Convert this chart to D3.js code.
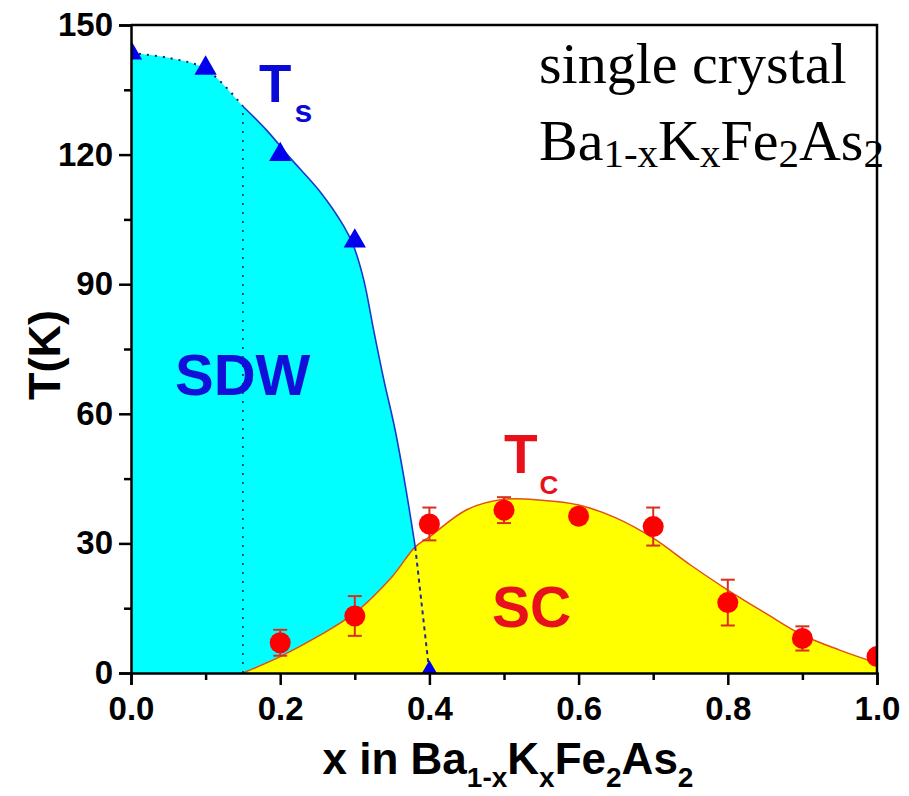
<!doctype html>
<html>
<head>
<script src="https://d3js.org/d3.v7.min.js"></script>
<style>
  body { margin: 0; background: #fff; }
</style>
</head>
<body>
<div id="chart"></div>
<script>
// measured Ts (structural) points, triangles
const tsX = [0, 0.1, 0.2, 0.3, 0.4];
const tsT = [143.5, 140, 120, 100, 0];
// Ts boundary line
const tsLineX = [0, 0.05, 0.1, 0.15, 0.182, 0.213, 0.254, 0.285, 0.298, 0.312, 0.325, 0.339, 0.354, 0.368, 0.381];
const tsLineT = [143.5, 142.4, 139.8, 131.2, 125.6, 119.3, 111.3, 103.5, 99, 91, 79.6, 67.8, 56.3, 43.1, 29.2];
// Tc points with error bars, circles
const tcX = [0.2, 0.3, 0.4, 0.5, 0.6, 0.7, 0.8, 0.9, 1.0];
const tcT = [7.0, 13.2, 34.5, 37.7, 36.3, 33.9, 16.3, 8.0, 3.8];
const tcErr = [3.0, 4.6, 3.8, 3.0, 1.7, 4.4, 5.3, 2.8, 0];
// Tc dome line
const tcLineX = [0.15, 0.2, 0.25, 0.3, 0.35, 0.381, 0.4, 0.45, 0.5, 0.55, 0.6, 0.65, 0.7, 0.75, 0.8, 0.85, 0.9, 0.95, 1.0];
const tcLineT = [0, 3.8, 8.4, 13.9, 22.3, 29.2, 31.5, 37.8, 40.2, 40, 38.9, 35.9, 31.2, 25, 19.2, 13.9, 8.8, 5.3, 2.3];
const xTicks = [0, 0.2, 0.4, 0.6, 0.8, 1.0];
const xMinor = [0.1, 0.3, 0.5, 0.7, 0.9];
const yTicks = [0, 30, 60, 90, 120, 150];
const yMinor = [15, 45, 75, 105, 135];

const width = 909, height = 796;
const mLeft = 131, mRight = 877, mTop = 25, mBottom = 673;
const sans = "'Liberation Sans', Arial, sans-serif";
const serif = "'Liberation Serif', 'Times New Roman', serif";

const x = d3.scaleLinear().domain([0, 1]).range([mLeft, mRight]);
const y = d3.scaleLinear().domain([0, 150]).range([mBottom, mTop]);

const svg = d3.select("#chart").append("svg")
    .attr("width", width)
    .attr("height", height)
    .style("font-family", sans);

svg.append("defs").append("clipPath").attr("id", "plot")
    .append("rect")
    .attr("x", mLeft).attr("y", mTop)
    .attr("width", mRight - mLeft).attr("height", mBottom - mTop);

const tsLine = tsLineX.map((d, i) => [d, tsLineT[i]]);
const tcLine = tcLineX.map((d, i) => [d, tcLineT[i]]);
const curve = d3.curveCatmullRom.alpha(0.5);

const g = svg.append("g").attr("clip-path", "url(#plot)");

// SDW region
g.append("path")
    .datum(tsLine)
    .attr("fill", "#00ffff")
    .attr("d", d3.area()
        .x(d => x(d[0]))
        .y0(y(0))
        .y1(d => y(d[1]))
        .curve(curve));

// SC region
g.append("path")
    .datum(tcLine)
    .attr("fill", "#ffff00")
    .attr("d", d3.area()
        .x(d => x(d[0]))
        .y0(y(0))
        .y1(d => y(d[1]))
        .curve(curve));

const line = d3.line().x(d => x(d[0])).y(d => y(d[1])).curve(curve);

g.append("path")
    .datum(tcLine)
    .attr("fill", "none")
    .attr("stroke", "#e0501a")
    .attr("stroke-width", 1.5)
    .attr("d", line);

// Ts line: dotted part up to x=0.15, solid after
g.append("path")
    .datum(tsLine.filter(d => d[0] <= 0.15))
    .attr("fill", "none")
    .attr("stroke", "#102070")
    .attr("stroke-width", 2)
    .attr("stroke-dasharray", "2,6")
    .attr("d", line);
g.append("path")
    .datum(tsLine.filter(d => d[0] >= 0.15))
    .attr("fill", "none")
    .attr("stroke", "#1a3ac8")
    .attr("stroke-width", 1.6)
    .attr("d", line);

// dashed continuation down to the last triangle
const tsEnd = tsLine[tsLine.length - 1];
g.append("line")
    .attr("x1", x(tsEnd[0])).attr("y1", y(tsEnd[1]))
    .attr("x2", x(tsX[4])).attr("y2", y(tsT[4]))
    .attr("stroke", "#1a2a9a")
    .attr("stroke-width", 2)
    .attr("stroke-dasharray", "4,4");

// vertical dotted line at x = 0.15
g.append("line")
    .attr("x1", x(0.15)).attr("x2", x(0.15))
    .attr("y1", y(0)).attr("y2", y(131.2))
    .attr("stroke", "#102060")
    .attr("stroke-width", 1.5)
    .attr("stroke-dasharray", "2,7");

// error bars
const eb = g.selectAll("g.err")
    .data(tcX.map((d, i) => ({x: d, t: tcT[i], e: tcErr[i]})).filter(d => d.e > 0))
    .enter().append("g").attr("class", "err")
    .attr("stroke", "#d8301c")
    .attr("stroke-width", 2);
eb.append("line")
    .attr("x1", d => x(d.x)).attr("x2", d => x(d.x))
    .attr("y1", d => y(d.t + d.e)).attr("y2", d => y(d.t - d.e));
eb.append("line")
    .attr("x1", d => x(d.x) - 7).attr("x2", d => x(d.x) + 7)
    .attr("y1", d => y(d.t + d.e)).attr("y2", d => y(d.t + d.e));
eb.append("line")
    .attr("x1", d => x(d.x) - 7).attr("x2", d => x(d.x) + 7)
    .attr("y1", d => y(d.t - d.e)).attr("y2", d => y(d.t - d.e));

g.selectAll("circle.tc")
    .data(tcX)
    .enter().append("circle")
    .attr("class", "tc")
    .attr("cx", d => x(d))
    .attr("cy", (d, i) => y(tcT[i]))
    .attr("r", 10.5)
    .attr("fill", "#ff0000");

g.selectAll("path.ts")
    .data(tsX)
    .enter().append("path")
    .attr("class", "ts")
    .attr("transform", (d, i) => "translate(" + x(d) + "," + y(tsT[i]) + ")")
    .attr("d", d3.symbol().type(d3.symbolTriangle).size(215))
    .attr("fill", "#0000ee");

// frame top/right
svg.append("path")
    .attr("d", "M" + mLeft + "," + mTop + "H" + mRight + "V" + mBottom)
    .attr("fill", "none")
    .attr("stroke", "#000")
    .attr("stroke-width", 2.5);

// axes
svg.append("g")
    .attr("transform", "translate(0," + mBottom + ")")
    .call(d3.axisBottom(x).tickValues(xTicks).tickSize(12).tickPadding(12)
        .tickFormat(d3.format(".1f")));
svg.append("g")
    .attr("transform", "translate(0," + mBottom + ")")
    .call(d3.axisBottom(x).tickValues(xMinor).tickSize(7).tickFormat(""))
    .select(".domain").remove();
svg.append("g")
    .attr("transform", "translate(" + mLeft + ",0)")
    .call(d3.axisLeft(y).tickValues(yTicks).tickSize(12).tickPadding(6));
svg.append("g")
    .attr("transform", "translate(" + mLeft + ",0)")
    .call(d3.axisLeft(y).tickValues(yMinor).tickSize(7).tickFormat(""))
    .select(".domain").remove();

svg.selectAll(".domain").attr("stroke", "#000").attr("stroke-width", 2.5);
svg.selectAll(".tick line").attr("stroke", "#000").attr("stroke-width", 2.5);
svg.selectAll(".tick text")
    .attr("fill", "#000")
    .style("font-size", "33px")
    .style("font-weight", "bold")
    .style("font-family", sans);

// axis titles
const xt = svg.append("text")
    .attr("x", (mLeft + mRight) / 2 + 4)
    .attr("y", 774)
    .attr("text-anchor", "middle")
    .style("font-size", "44px")
    .style("font-weight", "bold");
xt.append("tspan").text("x in Ba");
xt.append("tspan").attr("dy", 13).style("font-size", "28px").text("1-x");
xt.append("tspan").attr("dy", -13).text("K");
xt.append("tspan").attr("dy", 13).style("font-size", "28px").text("x");
xt.append("tspan").attr("dy", -13).text("Fe");
xt.append("tspan").attr("dy", 13).style("font-size", "28px").text("2");
xt.append("tspan").attr("dy", -13).text("As");
xt.append("tspan").attr("dy", 13).style("font-size", "28px").text("2");

svg.append("text")
    .attr("transform", "translate(60,355) rotate(-90)")
    .attr("text-anchor", "middle")
    .style("font-size", "45px")
    .style("font-weight", "bold")
    .text("T(K)");

// region labels
const lab = svg.append("g").style("font-weight", "bold");
lab.append("text").attr("x", 175).attr("y", 395)
    .attr("fill", "#1010d8").style("font-size", "58px").text("SDW");
lab.append("text").attr("x", 492).attr("y", 627)
    .attr("fill", "#e8101a").style("font-size", "57px").text("SC");
const tsl = lab.append("text").attr("x", 259).attr("y", 102)
    .attr("fill", "#0a0ad8").style("font-size", "53px");
tsl.append("tspan").text("T");
tsl.append("tspan").attr("dx", 3).attr("dy", 20).style("font-size", "32px").text("s");
const tcl = lab.append("text").attr("x", 504).attr("y", 473)
    .attr("fill", "#e8101a").style("font-size", "55px");
tcl.append("tspan").text("T");
tcl.append("tspan").attr("dx", 2).attr("dy", 21).style("font-size", "26px").text("C");

// sample note
const note = svg.append("g").attr("fill", "#000");
note.append("text").attr("x", 539).attr("y", 83)
    .style("font-family", serif)
    .style("font-size", "58px").text("single crystal");
const f = note.append("text").attr("x", 539).attr("y", 160)
    .style("font-family", serif)
    .style("font-size", "58px");
f.append("tspan").text("Ba");
f.append("tspan").attr("dy", 7).style("font-size", "41px").text("1-x");
f.append("tspan").attr("dy", -7).text("K");
f.append("tspan").attr("dy", 7).style("font-size", "41px").text("x");
f.append("tspan").attr("dy", -7).text("Fe");
f.append("tspan").attr("dy", 7).style("font-size", "41px").text("2");
f.append("tspan").attr("dy", -7).text("As");
f.append("tspan").attr("dy", 7).style("font-size", "41px").text("2");
</script>
</body>
</html>
